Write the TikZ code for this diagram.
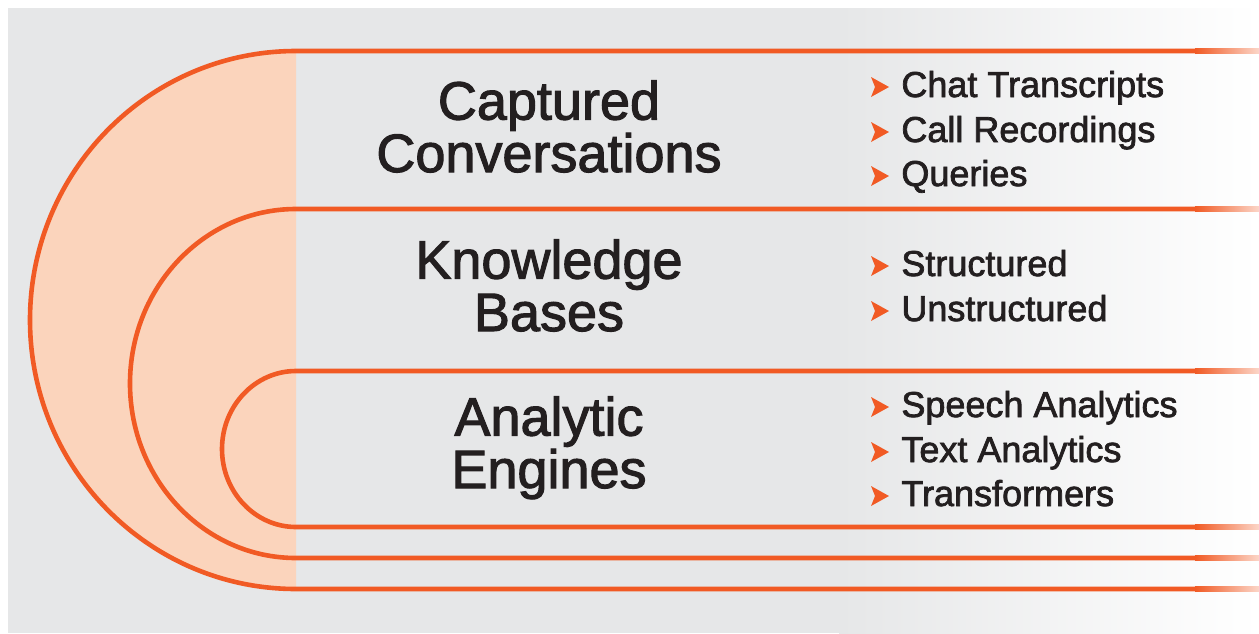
\documentclass[tikz,border=0pt]{standalone}
\usepackage{fontspec}
\setmainfont{Liberation Sans}[FakeBold=2]
\newfontfamily\medfont{Liberation Sans}[FakeBold=2]
\usetikzlibrary{positioning}

\definecolor{bandorange}{RGB}{241,90,36}
\definecolor{peach}{RGB}{251,212,188}
\definecolor{panelgray}{RGB}{230,231,232}
\definecolor{inkdark}{RGB}{35,31,32}

\tikzset{
    band/.style={draw=bandorange,line width=2.3pt},
    head/.style={anchor=base,align=center,text=inkdark,inner sep=0pt,
        font=\medfont\fontsize{27}{26.2}\selectfont},
    entry/.style={anchor=base west,text=inkdark,inner sep=0pt,
        font=\medfont\fontsize{18}{20}\selectfont},
    chevron/.pic={\fill[bandorange] (0,0) -- (-18,10) -- (-14,0) -- (-18,-10) -- cycle;}
}

\begin{document}
\begin{tikzpicture}[x=0.5pt,y=0.5pt]
                \useasboundingbox (0,0) rectangle (1259,-633);
                % panel, fading out to the right
                \fill[panelgray] (8,-8) rectangle (840,-633);
                \shade[left color=panelgray,right color=white] (839,-8) rectangle (1259,-633);
                \fill[peach] (296,-51) arc[start angle=90,end angle=270,x radius=266,y radius=269] -- cycle;
                % the three nested bands
                \draw[band] (1198,-51) -- (296,-51) arc[start angle=90,end angle=270,x radius=266,y radius=269] -- (1198,-589);
                \draw[band] (1198,-209) -- (296,-209) arc[start angle=90,end angle=270,x radius=166,y radius=174.5] -- (1198,-558);
                \draw[band] (1198,-371) -- (296,-371) arc[start angle=90,end angle=270,x radius=74,y radius=78] -- (1198,-527);
                \foreach \yy in {51,209,371,527,558,589}
                {
                    \shade[left color=bandorange,right color=bandorange!25] (1195,-\yy+2.3) rectangle (1259,-\yy-2.3);
                }
                % headings
                \node[head] (captured) at (549,-172) {Captured\\Conversations};
                \node[head] (knowledge) at (549,-331) {Knowledge\\Bases};
                \node[head] (analytic) at (549,-488) {Analytic\\Engines};
                % sources listed on the right
                \foreach \txt/\yy [count=\n] in {Chat Transcripts/97,Call Recordings/142,Queries/186,
                    Structured/276,Unstructured/321,
                    Speech Analytics/417,Text Analytics/462,Transformers/506}
                {
                    \node[entry] (entry\n) at (901,-\yy) {\txt};
                    \pic at (889,-\yy+10) {chevron};
                }
            \end{tikzpicture}
\end{document}
